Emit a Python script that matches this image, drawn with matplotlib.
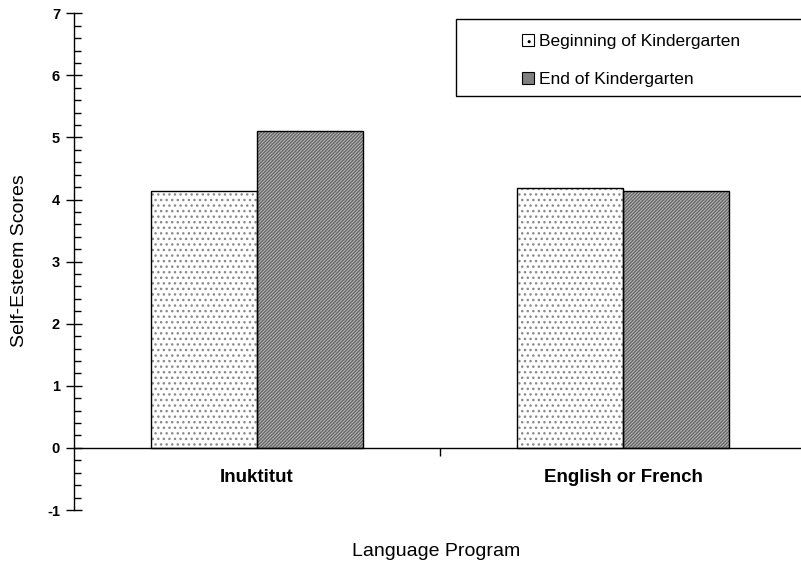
import matplotlib
matplotlib.use("Agg")
import matplotlib.pyplot as plt
from matplotlib.patches import Patch, Rectangle
from matplotlib.ticker import FixedLocator, MultipleLocator

categories = ["Inuktitut", "English or French"]
series_names = ["Beginning of Kindergarten", "End of Kindergarten"]
beginning = [4.13, 4.18]
end = [5.11, 4.13]
y_ticks = [-1, 0, 1, 2, 3, 4, 5, 6, 7]

plt.rcParams["font.family"] = ["Liberation Sans", "DejaVu Sans"]
plt.rcParams["hatch.linewidth"] = 1.0

fig = plt.figure(figsize=(8.01, 5.72), dpi=100)
W, H = 801, 572
x0, x1 = 74, 806
ytop, ybot = 13.3, 510.0
ax = fig.add_axes([x0 / W, 1 - ybot / H, (x1 - x0) / W, (ybot - ytop) / H])
ax.set_xlim(0, 2)
ax.set_ylim(-1, 7)

bw = 0.29
centers = [0.5, 1.5]
for i, c in enumerate(centers):
    # beginning bar
    ax.bar(c - bw / 2, beginning[i], width=bw, color="white", edgecolor="#8a8a8a",
           hatch="...", linewidth=0, zorder=2)
    ax.bar(c - bw / 2, beginning[i], width=bw, fill=False, edgecolor="black",
           linewidth=1.0, zorder=3)
    # end bar
    ax.bar(c + bw / 2, end[i], width=bw, color="#bababa", edgecolor="#666666",
           hatch="//////////", linewidth=0, zorder=2)
    ax.bar(c + bw / 2, end[i], width=bw, fill=False, edgecolor="black",
           linewidth=1.0, zorder=3)

for s in ["top", "right"]:
    ax.spines[s].set_visible(False)
ax.spines["bottom"].set_position(("data", 0))
ax.spines["left"].set_linewidth(1.0)
ax.spines["bottom"].set_linewidth(1.0)
ax.spines["bottom"].set_zorder(4)

ax.yaxis.set_major_locator(FixedLocator(y_ticks))
ax.yaxis.set_minor_locator(MultipleLocator(0.2))
ax.tick_params(axis="y", which="major", direction="inout", length=12, width=1,
               pad=4)
ax.tick_params(axis="y", which="minor", direction="in", length=5, width=1)
ax.set_yticklabels([str(v) for v in y_ticks], fontweight="bold", fontsize=10.5)

ax.xaxis.set_major_locator(FixedLocator([1]))
ax.tick_params(axis="x", which="major", direction="out", length=6, width=1,
               labelbottom=False)
for c, name in zip(centers, categories):
    ax.text(c, -0.48, name, ha="center", va="center", fontsize=13.5,
            fontweight="bold")

fig.text(19.5 / W, 1 - 261 / H, "Self-Esteem Scores", rotation=90, ha="center",
         va="center", fontsize=14)
fig.text(436 / W, 1 - 551 / H, "Language Program", ha="center", va="center",
         fontsize=14)

# legend box
bx0, by0, bx1, by1 = 456, 19, 812, 96
fig.patches.append(Rectangle((bx0 / W, 1 - by1 / H), (bx1 - bx0) / W, (by1 - by0) / H,
                             transform=fig.transFigure, fill=False, edgecolor="black",
                             linewidth=1.0, zorder=5))
handles = [Patch(facecolor="white", edgecolor="black", hatch="..", linewidth=0.8),
           Patch(facecolor="#808080", edgecolor="black", linewidth=0.8)]
leg = fig.legend(handles, series_names, loc="upper left",
                 bbox_to_anchor=(522 / W, 1 - 34 / H), frameon=False,
                 handlelength=0.7, handleheight=0.7, handletextpad=0.3,
                 labelspacing=1.33, fontsize=12.5, borderpad=0, borderaxespad=0)

fig.savefig("out.png", dpi=100)
